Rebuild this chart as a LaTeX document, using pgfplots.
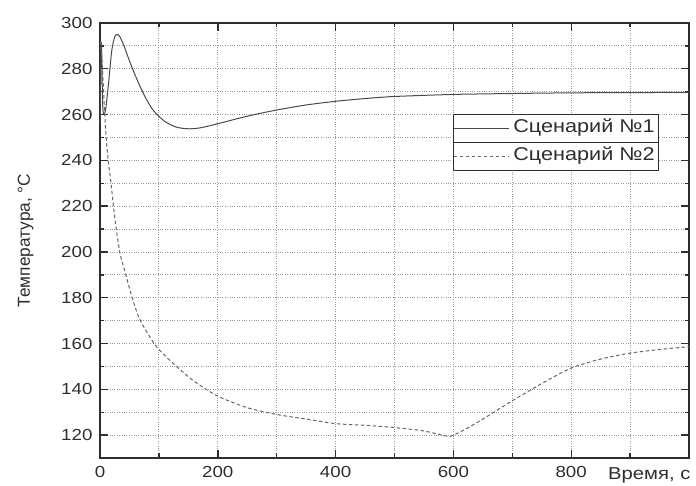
\documentclass[border=0pt]{standalone}
\usepackage{fontspec}
\setmainfont{Liberation Sans}[FakeStretch=1.17]
\newfontfamily\yfont{Liberation Sans}
\usepackage{pgfplots}
\pgfplotsset{compat=1.18}

\definecolor{axcol}{HTML}{2E2E2E}
\definecolor{gridcol}{HTML}{9A9A9A}
\definecolor{curveA}{HTML}{4A4A4A}
\definecolor{curveB}{HTML}{666666}

\begin{document}
\begin{tikzpicture}
\useasboundingbox (-100pt,-28pt) rectangle (596pt,458pt);
\begin{axis}[
  at={(0pt,0pt)}, anchor=south west,
  scale only axis, width=589pt, height=435pt,
  xmin=0, xmax=1000, ymin=110, ymax=300,
  xtick={0,200,...,800}, minor xtick={100,300,...,900},
  ytick={120,140,...,300}, minor ytick={130,150,...,290},
  grid=both,
  major grid style={dotted, gridcol, line width=0.8pt},
  minor grid style={dotted, gridcol, line width=0.8pt},
  tick align=inside, tick pos=both,
  major tick length=8pt, minor tick length=4.5pt,
  every tick/.style={axcol, line width=1.4pt},
  axis line style={axcol, line width=1.4pt},
  /pgf/number format/assume math mode=true,
  ticklabel style={font=\fontsize{16}{18}\selectfont, text=axcol},
  xticklabel style={yshift=-5pt},
  yticklabel style={xshift=-4pt},
  xlabel={\fontsize{17.3}{20}\selectfont Время, с},
  xlabel style={at={(rel axis cs:1,0)}, anchor=north east, xshift=5pt, yshift=-6pt,
    text=axcol},
  ylabel={\yfont\fontsize{17.3}{20}\selectfont Температура, °С},
  ylabel style={at={(rel axis cs:0,0.5)}, anchor=south, text=axcol},
  every axis y label/.append style={yshift=63pt},
  legend style={name=leg, at={(0.599,0.791)}, anchor=north west,
    draw=axcol, line width=1pt, inner sep=0pt, row sep=0pt,
    font=\fontsize{18.5}{20}\selectfont, text=axcol,
    nodes={inner xsep=4pt, inner ysep=5.5pt, text height=13pt, text depth=4pt}},
  legend cell align=left,
  legend image code/.code={\draw[#1] (5pt,0pt) -- (60pt,0pt);},
]
\addplot[curveA, line width=1pt, smooth, tension=0.45] coordinates {
  (0,256) (1,276) (2,291) (3,286) (4,270) (5,262) (7,260) (10,263)
  (15,275) (20,288) (25,294) (29,295) (33,294.3) (40,290.5) (50,283.5)
  (60,277) (75,268.5) (90,262) (110,257) (130,254.5) (150,253.8)
  (170,254.2) (200,256) (250,259.3) (300,262) (350,264.2) (400,265.8)
  (450,267) (500,267.9) (600,268.8) (700,269.2) (800,269.5) (900,269.6)
  (1000,269.7)
};
\addlegendentry{Сценарий №1}
\addplot[curveB, line width=1pt, dash pattern=on 3.5pt off 2.5pt, smooth, tension=0.45] coordinates {
  (0,292) (3,285) (6,271) (8.5,258) (11,248) (14,240) (18.7,230)
  (25.5,214) (34,199.4) (45,189) (54,180.5) (68,170.3) (96,158.6)
  (130,150) (160,143.5) (200,137) (250,132) (300,129) (350,127)
  (400,125) (450,124.3) (500,123.3) (550,121.8) (590,119.5) (600,120)
  (620,122.5) (650,127) (700,135) (750,142.5) (800,149.3) (850,153.2)
  (900,155.8) (950,157.4) (1000,158.6)
};
\addlegendentry{Сценарий №2}
\end{axis}
\draw[axcol, line width=1pt] (leg.west) -- (leg.east);
\end{tikzpicture}
\end{document}
